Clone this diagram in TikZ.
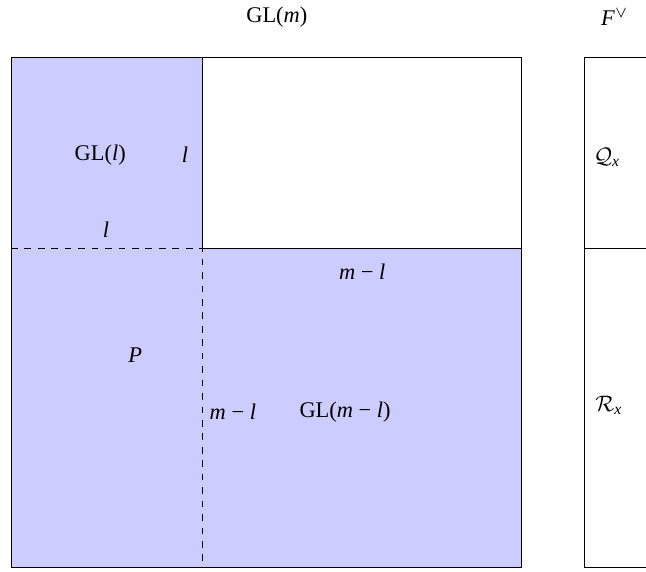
\documentclass[tikz,border=0pt]{standalone}
\usepackage{amsmath}
\usepackage{fontspec}
\setmainfont{Liberation Serif}
\newcommand{\vi}[1]{\textit{#1}}
\newcommand{\mminus}{\hspace{0.25em}\char"2212\hspace{0.25em}}
\begin{document}
\begin{tikzpicture}[x=1cm,y=1cm]
	      \def\Size{8}
	      \def\Cut{3}
	      \useasboundingbox (-0.1725,-0.063) rectangle (9.96,8.894);
	      \path
		(0,0) coordinate (A)
		(\Size,\Size) coordinate (C)
		(\Cut,\Size-\Cut) coordinate (M)
		(0,\Size-\Cut) coordinate (W)
		(\Cut,\Size) coordinate (N)
		(\Size,\Size-\Cut) coordinate (E)
		(\Cut,0) coordinate (S)
	      ;
	      % Shaded blocks
		  \fill[blue!20] (A) rectangle (E);
		  \fill[blue!20] (W) rectangle (N);
		  % Frame and cuts
		  \draw (A) rectangle (C);
		  \draw (N) -- (M) -- (E);
		  \draw[dashed] (W) -- (M) -- (S);
		  % Dual column
		  \draw (9,0) rectangle (10,\Size);
		  \draw (9,\Size-\Cut) -- (10,\Size-\Cut);
		  % Annotations
		  \path[inner sep=0pt];
		  \draw(4.17,8.63)node(glm){GL(\vi{m})};
		  \draw(9.47,8.63)node(dual){\vi{F}$^\vee$};
		  \draw(1.40,6.46)node(gll){GL(\vi{l})};
		  \draw(2.73,6.46)node(lr){\vi{l}};
		  \draw(1.49,5.29)node(lb){\vi{l}};
		  \draw(5.51,4.63)node(mlt){\vi{m}\mminus\vi{l}};
		  \draw(1.95,3.33)node(par){\vi{P}};
		  \draw(3.48,2.43)node(mll){\vi{m}\mminus\vi{l}};
		  \draw(5.24,2.43)node(glml){GL(\vi{m}\mminus\vi{l})};
		  \draw(9.35,6.43)node(qx){$\mathcal{Q}_{\vi{x}}$};
		  \draw(9.38,2.54)node(rx){$\mathcal{R}_{\vi{x}}$};
	    \end{tikzpicture}
\end{document}
